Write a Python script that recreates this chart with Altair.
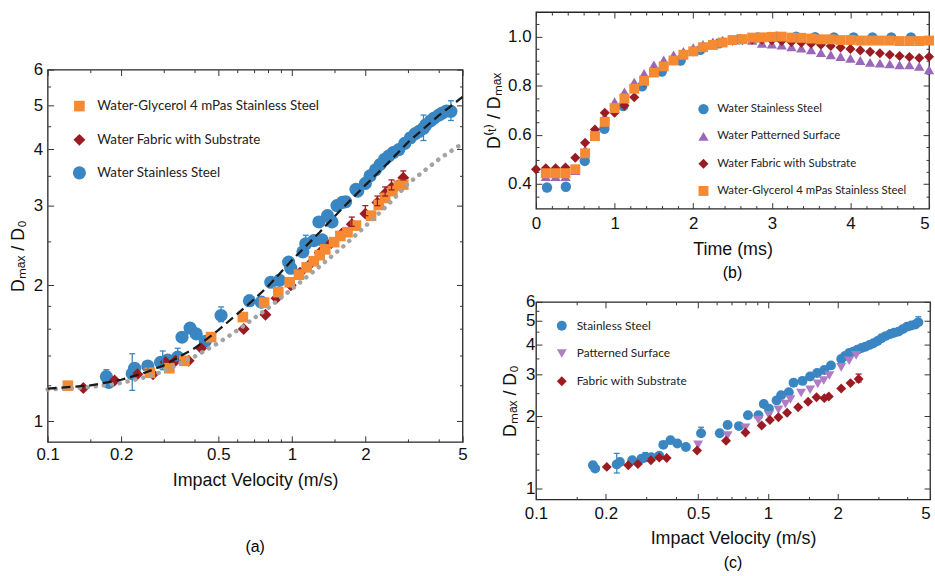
import altair as alt
import pandas as pd

BLUE = "#3a86c3"
ORANGE = "#f68a32"
RED = "#9a1c22"
PURPLE = "#9a68b8"
PURPLE_C = "#b07cc4"
TICK = "#333333"

# ---------------- panel (a) data ----------------
a_ss_v = [0.174, 0.178, 0.222, 0.227, 0.257, 0.29, 0.31, 0.341, 0.355, 0.383, 0.406, 0.442, 0.513, 0.67, 0.75,
          0.82, 0.89, 0.97, 0.99, 1.11, 1.14, 1.23, 1.29, 1.33, 1.40, 1.46, 1.53, 1.61, 1.66, 1.83, 1.86, 2.0,
          2.09, 2.2, 2.3, 2.4, 2.49, 2.6, 2.74, 2.9, 3.06, 3.2, 3.32, 3.46, 3.54, 3.7, 3.83, 4.0, 4.13, 4.3, 4.48]
a_ss_d = [1.255, 1.218, 1.274, 1.31, 1.325, 1.35, 1.366, 1.386, 1.534, 1.607, 1.56, 1.503, 1.714, 1.847, 1.834,
          2.03, 2.05, 2.25, 2.18, 2.37, 2.47, 2.51, 2.76, 2.52, 2.85, 2.76, 3.0, 3.05, 3.06, 3.26, 3.23, 3.36,
          3.49, 3.6, 3.7, 3.8, 3.86, 3.93, 3.99, 4.12, 4.24, 4.33, 4.38, 4.45, 4.53, 4.62, 4.69, 4.76, 4.81, 4.86, 4.85]
a_ss_err_v = [0.174, 0.222, 0.257, 0.296, 0.341, 0.513, 0.67, 1.14, 3.46, 4.48]
a_ss_err_lo = [1.23, 1.17, 1.30, 1.30, 1.36, 1.66, 1.80, 2.42, 4.18, 4.63]
a_ss_err_hi = [1.30, 1.41, 1.35, 1.43, 1.45, 1.79, 1.90, 2.58, 4.76, 5.12]

a_gl_v = [0.121, 0.262, 0.315, 0.363, 0.467, 0.63, 0.77, 0.88, 0.98, 1.07, 1.15, 1.23, 1.30, 1.37, 1.49, 1.58,
          1.69, 1.83, 2.11, 2.27, 2.41, 2.58, 2.74, 2.86]
a_gl_d = [1.198, 1.28, 1.31, 1.36, 1.535, 1.70, 1.83, 1.93, 2.03, 2.11, 2.19, 2.26, 2.33, 2.40, 2.49, 2.57,
          2.62, 2.71, 2.85, 3.01, 3.12, 3.23, 3.32, 3.34]

a_fb_v = [0.140, 0.188, 0.233, 0.27, 0.304, 0.334, 0.378, 0.425, 0.635, 0.78, 0.865, 0.99, 1.08, 1.18, 1.30,
          1.45, 1.60, 1.76, 2.0, 2.24, 2.41, 2.56, 2.70, 2.86]
a_fb_d = [1.184, 1.23, 1.27, 1.27, 1.35, 1.36, 1.36, 1.45, 1.60, 1.72, 1.87, 2.0, 2.13, 2.22, 2.36,
          2.48, 2.60, 2.73, 2.88, 3.05, 3.19, 3.29, 3.32, 3.46]
a_fb_err_v = [1.76, 2.0, 2.24, 2.41, 2.56, 2.86]
a_fb_err_lo = [2.70, 2.85, 3.0, 3.15, 3.25, 3.42]
a_fb_err_hi = [2.83, 3.0, 3.15, 3.3, 3.42, 3.58]

a_dash_v = [0.1, 0.15, 0.2, 0.25, 0.3, 0.4, 0.5, 0.6, 0.7, 0.8, 1.0, 1.3, 1.6, 2.0, 2.5, 3.0, 4.0, 5.0]
a_dash_d = [1.18, 1.2, 1.235, 1.28, 1.33, 1.45, 1.59, 1.73, 1.86, 1.99, 2.27, 2.62, 2.95, 3.33, 3.75, 4.15, 4.75, 5.22]
a_dot_v = [0.1, 0.15, 0.2, 0.25, 0.3, 0.4, 0.5, 0.6, 0.7, 0.8, 1.0, 1.3, 1.6, 2.0, 2.5, 3.0, 4.0, 5.0]
a_dot_d = [1.175, 1.19, 1.215, 1.25, 1.29, 1.39, 1.49, 1.59, 1.69, 1.78, 1.96, 2.2, 2.42, 2.7, 3.03, 3.36, 3.8, 4.12]

A_NAMES = ["Water-Glycerol 4 mPas Stainless Steel", "Water Fabric with Substrate", "Water Stainless Steel"]

# ---------------- panel (b) data ----------------
b_t8 = [0.125, 0.25, 0.375, 0.5, 0.625, 0.75, 0.875, 1.0, 1.125, 1.25, 1.375, 1.5, 1.625, 1.75, 1.875, 2.0,
        2.125, 2.25, 2.375, 2.5, 2.625, 2.75, 2.875, 3.0, 3.125, 3.25, 3.375, 3.5, 3.625, 3.75, 3.875, 4.0,
        4.125, 4.25, 4.375, 4.5, 4.625, 4.75, 4.875, 5.0]
b_t8_0 = [0.0] + b_t8
b_ss_t = [0.14, 0.38, 0.62, 0.87, 1.11, 1.35, 1.6, 1.84, 2.09, 2.33, 2.58, 2.82, 3.06, 3.31, 3.55, 3.79, 4.04,
          4.28, 4.52, 4.77]
b_ss_d = [0.386, 0.389, 0.494, 0.625, 0.717, 0.798, 0.858, 0.903, 0.946, 0.973, 0.989, 0.997, 1.0, 1.0, 0.998,
          0.997, 0.997, 0.997, 0.997, 0.997]
b_pt_d = [0.43, 0.43, 0.43, 0.455, 0.54, 0.62, 0.675, 0.735, 0.775, 0.815, 0.85, 0.885, 0.905, 0.925, 0.94,
          0.955, 0.968, 0.978, 0.985, 0.99, 0.99, 0.985, 0.973, 0.97, 0.966, 0.959, 0.953, 0.946, 0.935, 0.926,
          0.919, 0.912, 0.903, 0.895, 0.892, 0.889, 0.885, 0.885, 0.879, 0.865]
b_fb_d = [0.46, 0.464, 0.464, 0.467, 0.507, 0.568, 0.622, 0.69, 0.69, 0.72, 0.753, 0.814, 0.858, 0.88, 0.905,
          0.925, 0.94, 0.955, 0.968, 0.977, 0.983, 0.986, 0.988, 0.987, 0.985, 0.982, 0.978, 0.975, 0.971, 0.967,
          0.962, 0.956, 0.95, 0.944, 0.938, 0.932, 0.926, 0.921, 0.917, 0.913, 0.918]
b_gl_d = [0.444, 0.444, 0.444, 0.46, 0.525, 0.595, 0.653, 0.709, 0.748, 0.788, 0.82, 0.854, 0.879, 0.903, 0.926,
          0.94, 0.957, 0.966, 0.976, 0.986, 0.99, 0.996, 0.997, 0.999, 1.0, 0.996, 0.995, 0.992, 0.989, 0.989,
          0.986, 0.986, 0.984, 0.984, 0.984, 0.984, 0.982, 0.982, 0.982, 0.984]
B_NAMES = ["Water Stainless Steel", "Water Patterned Surface", "Water Fabric with Substrate",
           "Water-Glycerol 4 mPas Stainless Steel"]

# ---------------- panel (c) data ----------------
c_ss_v = [0.176, 0.18, 0.223, 0.23, 0.26, 0.285, 0.296, 0.314, 0.34, 0.354, 0.38, 0.407, 0.443, 0.515, 0.62,
          0.67, 0.75, 0.82, 0.91, 0.96, 1.01, 1.09, 1.14, 1.23, 1.29, 1.41, 1.52, 1.63, 1.75, 1.87, 2.07, 2.15,
          2.24, 2.33, 2.43, 2.53, 2.63, 2.74, 2.85, 2.97, 3.09, 3.22, 3.37, 3.5, 3.66, 3.82, 3.98, 4.15, 4.32, 4.45]
c_ss_d = [1.25, 1.21, 1.26, 1.29, 1.31, 1.33, 1.345, 1.35, 1.37, 1.52, 1.59, 1.54, 1.49, 1.70, 1.70,
          1.84, 1.82, 2.02, 2.02, 2.25, 2.15, 2.33, 2.45, 2.52, 2.76, 2.81, 2.93, 3.03, 3.12, 3.26, 3.47, 3.57,
          3.67, 3.72, 3.79, 3.85, 3.90, 3.97, 4.03, 4.12, 4.23, 4.32, 4.41, 4.46, 4.51, 4.62, 4.73, 4.78, 4.83, 4.93]
c_ss_err_v = [0.223, 0.296, 0.515, 4.45]
c_ss_err_lo = [1.16, 1.32, 1.66, 4.80]
c_ss_err_hi = [1.40, 1.41, 1.80, 5.20]
c_pt_v = [0.50, 0.67, 0.80, 0.91, 1.01, 1.11, 1.19, 1.25, 1.39, 1.52, 1.64, 1.74, 1.84, 2.07, 2.24, 2.40]
c_pt_d = [1.52, 1.66, 1.79, 1.93, 2.02, 2.13, 2.25, 2.35, 2.50, 2.58, 2.73, 2.82, 2.96, 3.20, 3.41, 3.59]
c_fb_v = [0.202, 0.25, 0.275, 0.313, 0.34, 0.366, 0.495, 0.66, 0.80, 0.94, 1.02, 1.11, 1.21, 1.35, 1.49, 1.62,
          1.75, 1.83, 2.07, 2.27, 2.46]
c_fb_d = [1.23, 1.25, 1.265, 1.31, 1.345, 1.34, 1.44, 1.58, 1.71, 1.83, 1.93, 1.98, 2.07, 2.18, 2.30, 2.40,
          2.38, 2.42, 2.61, 2.75, 2.86]
c_fb_err_v = [2.46]
c_fb_err_lo = [2.78]
c_fb_err_hi = [3.0]
C_NAMES = ["Stainless Steel", "Patterned Surface", "Fabric with Substrate"]

FONT = "Liberation Sans"


def rows(x, y, name):
    return pd.DataFrame({"x": x, "y": y, "s": name})


def errdf(x, lo, hi):
    return pd.DataFrame({"x": x, "lo": lo, "hi": hi})


def err_layers(df, xs, ys, color, cap=6):
    rule = alt.Chart(df).mark_rule(color=color, strokeWidth=1.3).encode(
        x=alt.X("x:Q", scale=xs, axis=None), y=alt.Y("lo:Q", scale=ys, axis=None), y2="hi:Q")
    caps = []
    for f in ["lo", "hi"]:
        caps.append(alt.Chart(df).mark_point(shape="M -1 0 L 1 0", size=cap * cap, stroke=color,
                                             strokeWidth=1.3, filled=False, opacity=1).encode(
            x=alt.X("x:Q", scale=xs, axis=None), y=alt.Y(f + ":Q", scale=ys, axis=None)))
    return [rule] + caps


def frame_axes(xs, ys, xdom, ydom, xmaj, xmin, ymaj, ymin, xfmt, yfmt, xtitle, ytitle,
               y_ext, y_tpad, y_lpad, x_lpad, x_tpad, last_right=False):
    corner = pd.DataFrame({"x": [xdom[1]], "y": [ydom[1]]})
    base = alt.Chart(corner).mark_point(opacity=0, size=1)
    common = dict(domain=False, grid=False, tickColor=TICK, tickWidth=1)
    quiet = dict(labels=False, title=None, minExtent=0, maxExtent=0)
    if last_right:
        lab_align = {"condition": {"test": "datum.value >= %s" % xdom[1], "value": "right"}, "value": "center"}
    else:
        lab_align = "center"
    bx = alt.Axis(orient="bottom", values=xmaj, format=xfmt, tickSize=6, offset=-6, labelPadding=x_lpad,
                  labelFlush=False, labelAlign=lab_align, title=xtitle, titlePadding=x_tpad, **common)
    ly = alt.Axis(orient="left", values=ymaj, format=yfmt, tickSize=6, offset=-6, labelPadding=y_lpad,
                  title=ytitle, titlePadding=y_tpad, minExtent=y_ext, maxExtent=y_ext, **common)
    bxm = alt.Axis(orient="bottom", values=xmin, tickSize=3, offset=-3, **quiet, **common)
    lym = alt.Axis(orient="left", values=ymin, tickSize=3, offset=-3, **quiet, **common)
    tx = alt.Axis(orient="top", values=xmaj, tickSize=6, offset=-6, **quiet, **common)
    ry = alt.Axis(orient="right", values=ymaj, tickSize=6, offset=-6, **quiet, **common)
    txm = alt.Axis(orient="top", values=xmin, tickSize=3, offset=-3, **quiet, **common)
    rym = alt.Axis(orient="right", values=ymin, tickSize=3, offset=-3, **quiet, **common)
    out = []
    for ax, ay in [(bx, ly), (bxm, lym), (tx, ry), (txm, rym)]:
        out.append(base.encode(x=alt.X("x:Q", scale=xs, axis=ax), y=alt.Y("y:Q", scale=ys, axis=ay)))
    return out


def legend(lx, ly, fs, rowpad, loff):
    return alt.Legend(orient="none", legendX=lx, legendY=ly, title=None, labelFont="Lato", labelFontSize=fs,
                      labelColor="#222222", rowPadding=rowpad, labelOffset=loff, symbolStrokeWidth=0,
                      labelLimit=400)


def points(df, xs, ys, names, colors, shapes, sizes, leg):
    return alt.Chart(df).mark_point(filled=True, opacity=1, strokeWidth=0).encode(
        x=alt.X("x:Q", scale=xs, axis=None),
        y=alt.Y("y:Q", scale=ys, axis=None),
        color=alt.Color("s:N", scale=alt.Scale(domain=names, range=colors), legend=leg),
        shape=alt.Shape("s:N", scale=alt.Scale(domain=names, range=shapes), legend=leg),
        size=alt.Size("s:N", scale=alt.Scale(domain=names, range=sizes), legend=leg),
    )


LOG_MAJ = [0.1, 0.2, 0.5, 1, 2, 5]
LOG_MIN = [0.15, 0.3, 0.4, 0.6, 0.7, 0.8, 0.9, 1.5, 3, 4]
D_MAJ = [1, 2, 3, 4, 5, 6]
D_MIN = [1.2, 1.4, 1.6, 1.8, 2.5, 3.5, 4.5, 5.5]

# ---------------- panel (a) ----------------
xs_a = alt.Scale(type="log", domain=[0.1, 5], nice=False)
ys_a = alt.Scale(type="log", domain=[0.9, 6], nice=False)
df_a = pd.concat([rows(a_ss_v, a_ss_d, A_NAMES[2]), rows(a_fb_v, a_fb_d, A_NAMES[1]),
                  rows(a_gl_v, a_gl_d, A_NAMES[0])], ignore_index=True)
pts_a = points(df_a, xs_a, ys_a, A_NAMES, [ORANGE, RED, BLUE], ["square", "diamond", "circle"],
               [115, 175, 170], legend(25, 30, 13.5, 19, 11))
dash_a = alt.Chart(pd.DataFrame({"x": a_dash_v, "y": a_dash_d})).mark_line(
    color="#1a1a1a", strokeWidth=2.3, strokeDash=[9, 5]).encode(
    x=alt.X("x:Q", scale=xs_a, axis=None), y=alt.Y("y:Q", scale=ys_a, axis=None))
dot_a = alt.Chart(pd.DataFrame({"x": a_dot_v, "y": a_dot_d})).mark_line(
    color="#a3a3a3", strokeWidth=4.5, strokeDash=[0.1, 8], strokeCap="round").encode(
    x=alt.X("x:Q", scale=xs_a, axis=None), y=alt.Y("y:Q", scale=ys_a, axis=None))
layers_a = ([pts_a]
            + err_layers(errdf(a_fb_err_v, a_fb_err_lo, a_fb_err_hi), xs_a, ys_a, RED)
            + err_layers(errdf(a_ss_err_v, a_ss_err_lo, a_ss_err_hi), xs_a, ys_a, BLUE)
            + [dot_a, dash_a]
            + frame_axes(xs_a, ys_a, [0.1, 5], [0.9, 6], LOG_MAJ, LOG_MIN, D_MAJ, D_MIN, "~g", "~g",
                         "Impact Velocity (m/s)", "Dₘₐₓ / D₀", 20, 6, 5, 5, 9))
chart_a = alt.layer(*layers_a).resolve_axis(x="independent", y="independent").properties(
    width=418, height=375,
    title=alt.TitleParams("(a)", orient="bottom", fontSize=16, font=FONT, fontWeight="normal", offset=50))

# invisible spacer above panel (a)
spacer = alt.Chart(pd.DataFrame({"x": [0]})).mark_point(opacity=0, size=1).encode(
    x=alt.X("x:Q", axis=None), y=alt.Y("x:Q", axis=None)
).properties(width=418, height=58, view=alt.ViewBackground(stroke="transparent"))

left = alt.vconcat(spacer, chart_a, spacing=0, bounds="flush").resolve_scale(
    color="independent", shape="independent", size="independent", x="independent", y="independent")

# ---------------- panel (b) ----------------
xs_b = alt.Scale(domain=[0, 5], nice=False, zero=False)
ys_b = alt.Scale(domain=[0.3, 1.1], nice=False, zero=False)
df_b = pd.concat([rows(b_ss_t, b_ss_d, B_NAMES[0]), rows(b_t8, b_pt_d, B_NAMES[1]),
                  rows(b_t8_0, b_fb_d, B_NAMES[2]), rows(b_t8, b_gl_d, B_NAMES[3])], ignore_index=True)
pts_b = points(df_b, xs_b, ys_b, B_NAMES, [BLUE, PURPLE, RED, ORANGE],
               ["circle", "triangle-up", "diamond", "square"], [110, 100, 115, 80],
               legend(163, 92, 11.5, 14.5, 8))
b_xmin = [0.2, 0.4, 0.6, 0.8, 1.2, 1.4, 1.6, 1.8, 2.2, 2.4, 2.6, 2.8, 3.2, 3.4, 3.6, 3.8, 4.2, 4.4, 4.6, 4.8]
b_ymin = [0.35, 0.45, 0.5, 0.55, 0.65, 0.7, 0.75, 0.85, 0.9, 0.95, 1.05]
layers_b = [pts_b] + frame_axes(xs_b, ys_b, [0, 5], [0.3, 1.1], [0, 1, 2, 3, 4, 5], b_xmin,
                                [0.4, 0.6, 0.8, 1.0], b_ymin, "d", ".1f", "Time (ms)", "D⁽ᵗ⁾ / Dₘₐₓ",
                                35, 4, 5, 7, 9, last_right=True)
chart_b = alt.layer(*layers_b).resolve_axis(x="independent", y="independent").properties(
    width=396, height=198,
    title=alt.TitleParams("(b)", orient="bottom", fontSize=16, font=FONT, fontWeight="normal", offset=7))

# ---------------- panel (c) ----------------
xs_c = alt.Scale(type="log", domain=[0.1, 5], nice=False)
ys_c = alt.Scale(type="log", domain=[0.9, 6], nice=False)
df_c = pd.concat([rows(c_ss_v, c_ss_d, C_NAMES[0]), rows(c_pt_v, c_pt_d, C_NAMES[1]),
                  rows(c_fb_v, c_fb_d, C_NAMES[2])], ignore_index=True)
pts_c = points(df_c, xs_c, ys_c, C_NAMES, [BLUE, PURPLE_C, RED], ["circle", "triangle-down", "diamond"],
               [100, 100, 110], legend(20, 18, 12, 16, 9))
layers_c = ([pts_c]
            + err_layers(errdf(c_ss_err_v, c_ss_err_lo, c_ss_err_hi), xs_c, ys_c, BLUE)
            + err_layers(errdf(c_fb_err_v, c_fb_err_lo, c_fb_err_hi), xs_c, ys_c, RED)
            + frame_axes(xs_c, ys_c, [0.1, 5], [0.9, 6], LOG_MAJ, LOG_MIN, D_MAJ, D_MIN, "~g", "~g",
                         "Impact Velocity (m/s)", "Dₘₐₓ / D₀", 20, 3, 1, 6, 8, last_right=True))
chart_c = alt.layer(*layers_c).resolve_axis(x="independent", y="independent").properties(
    width=397, height=199,
    title=alt.TitleParams("(c)", orient="bottom", fontSize=16, font=FONT, fontWeight="normal", offset=8))

right = alt.vconcat(chart_b, chart_c, spacing=94, bounds="flush").resolve_scale(
    color="independent", shape="independent", size="independent", x="independent", y="independent")

chart = alt.hconcat(left, right, spacing=12).resolve_scale(
    color="independent", shape="independent", size="independent", x="independent", y="independent"
).properties(
    padding={"left": 9, "top": 8, "right": 0, "bottom": 0}
).configure_view(
    stroke="#262626", strokeWidth=1.3
).configure_axis(
    labelFont=FONT, labelFontSize=17, labelColor="#111111",
    titleFont=FONT, titleFontSize=18, titleFontWeight="normal", titleColor="#111111"
)

chart.save("out.html", embed_options={"renderer": "svg", "actions": False})
